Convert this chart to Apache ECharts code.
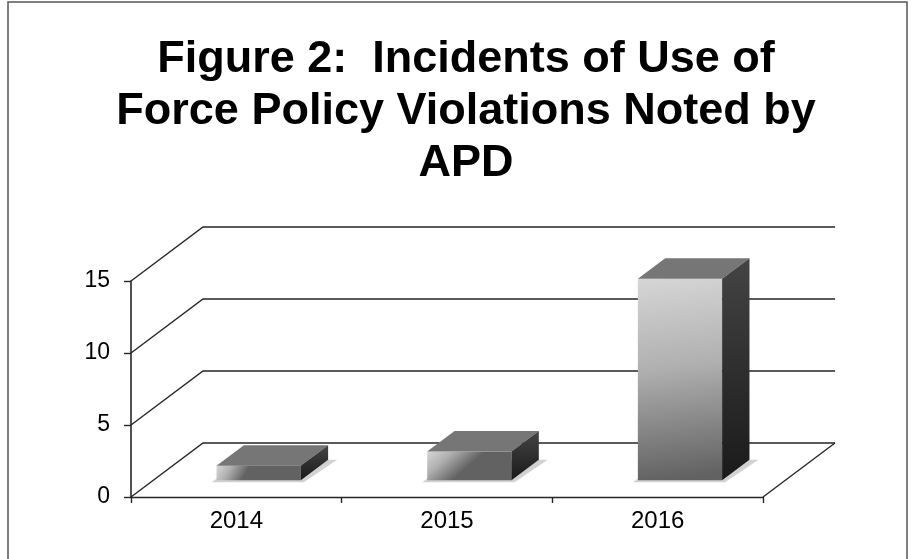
<!DOCTYPE html>
<html>
<head>
<meta charset="utf-8">
<script src="https://cdn.jsdelivr.net/npm/echarts@6/dist/echarts.min.js"></script>
<style>
  html, body { margin: 0; padding: 0; background: #fff; }
  #chart { width: 912px; height: 559px; }
</style>
</head>
<body>
<div id="chart"></div>
<script>
/* ---------------------------------------------------------------- */
/*   Figure 2: Use of Force policy violations (3D column look)      */
/* ---------------------------------------------------------------- */

var years = ['2014', '2015', '2016'];
var incidents = [1, 2, 14];
var yTicks = [0, 5, 10, 15];

// depth of the 3D box (back wall offset) and bar depth fractions
var DX = 72, DY = -54;
var D0 = 0.31, D1 = 0.69;
var FONT = "'Liberation Sans', Arial, sans-serif";

var chart = echarts.init(document.getElementById('chart'));

var renderWalls = function (params, api) {
    var cs = params.coordSys;
    var left = cs.x, right = cs.x + cs.width;
    var y = api.coord([0, api.value(1)])[1];
    var lineStyle = { fill: 'none', stroke: '#262626', lineWidth: 1.4 };
    var children = [{
        type: 'polyline',
        shape: { points: [[left, y], [left + DX, y + DY], [right + DX, y + DY]] },
        style: lineStyle
    }];
    if (api.value(1) === 0) {
        children.push({
            type: 'line',
            shape: { x1: right, y1: y, x2: right + DX, y2: y + DY },
            style: lineStyle
        });
    }
    return { type: 'group', children: children };
};

var renderBars = function (params, api) {
    var idx = api.value(0);
    var base = api.coord([idx, 0]);
    var top = api.coord([idx, api.value(1)]);
    var w = api.size([1, 0])[0] * 0.40;
    var fx0 = base[0] - w / 2 + DX * D0;
    var fx1 = fx0 + w;
    var fyB = base[1] + DY * D0;
    var fyT = top[1] + DY * D0;
    var bx = DX * (D1 - D0), by = DY * (D1 - D0);

    return {
        type: 'group',
        children: [{
            type: 'polygon',
            shape: { points: [[fx0 - 5, fyB + 2], [fx1 + 3, fyB + 2], [fx1 + bx + 9, fyB + by], [fx0 + bx, fyB + by]] },
            style: { fill: '#d2d2d2' }
        }, {
            type: 'rect',
            shape: { x: fx0, y: fyT, width: w, height: fyB - fyT },
            style: {
                fill: new echarts.graphic.LinearGradient(0, 0, 0.3, 1, [
                    { offset: 0, color: '#d6d6d6' },
                    { offset: 0.45, color: '#b0b0b0' },
                    { offset: 1, color: '#626262' }
                ])
            }
        }, {
            type: 'polygon',
            shape: { points: [[fx0, fyT], [fx1, fyT], [fx1 + bx, fyT + by], [fx0 + bx, fyT + by]] },
            style: { fill: '#767676' }
        }, {
            type: 'polygon',
            shape: { points: [[fx1, fyT], [fx1 + bx, fyT + by], [fx1 + bx, fyB + by], [fx1, fyB]] },
            style: {
                fill: new echarts.graphic.LinearGradient(0, 0, 0, 1, [
                    { offset: 0, color: '#444' },
                    { offset: 1, color: '#1a1a1a' }
                ])
            }
        }]
    };
};

var option = {
    animation: false,
    backgroundColor: '#fff',
    graphic: [{
        type: 'rect',
        shape: { x: 8, y: 2, width: 899, height: 600 },
        style: { fill: 'none', stroke: '#555', lineWidth: 1.5 },
        silent: true
    }, {
        type: 'text',
        x: 466,
        y: 34,
        style: {
            text: 'Figure 2:  Incidents of Use of\nForce Policy Violations Noted by\nAPD',
            font: 'bold 45px ' + FONT,
            lineHeight: 52,
            align: 'center',
            fill: '#000'
        }
    }],
    grid: { left: 131, right: 149, top: 281, bottom: 62 },
    xAxis: {
        type: 'category',
        data: years,
        axisLine: { lineStyle: { color: '#262626', width: 1.4 } },
        axisTick: { show: true, length: 6, lineStyle: { color: '#262626', width: 1.4 } },
        axisLabel: { color: '#000', fontSize: 24, fontFamily: FONT, margin: 12 },
        splitLine: { show: false }
    },
    yAxis: {
        type: 'value',
        min: 0,
        max: 15,
        interval: 5,
        axisLine: { show: true, lineStyle: { color: '#262626', width: 1.6 } },
        axisTick: { show: true, length: 7, lineStyle: { color: '#262626', width: 1.4 } },
        axisLabel: { color: '#000', fontSize: 23, fontFamily: FONT, margin: 21 },
        splitLine: { show: false }
    },
    series: [{
        type: 'custom',
        name: 'walls',
        clip: false,
        silent: true,
        z: 1,
        renderItem: renderWalls,
        data: yTicks.map(function (v) { return [0, v]; })
    }, {
        type: 'custom',
        name: 'Incidents',
        clip: false,
        z: 3,
        renderItem: renderBars,
        data: incidents.map(function (v, i) { return [i, v]; })
    }]
};

chart.setOption(option);
</script>
</body>
</html>
